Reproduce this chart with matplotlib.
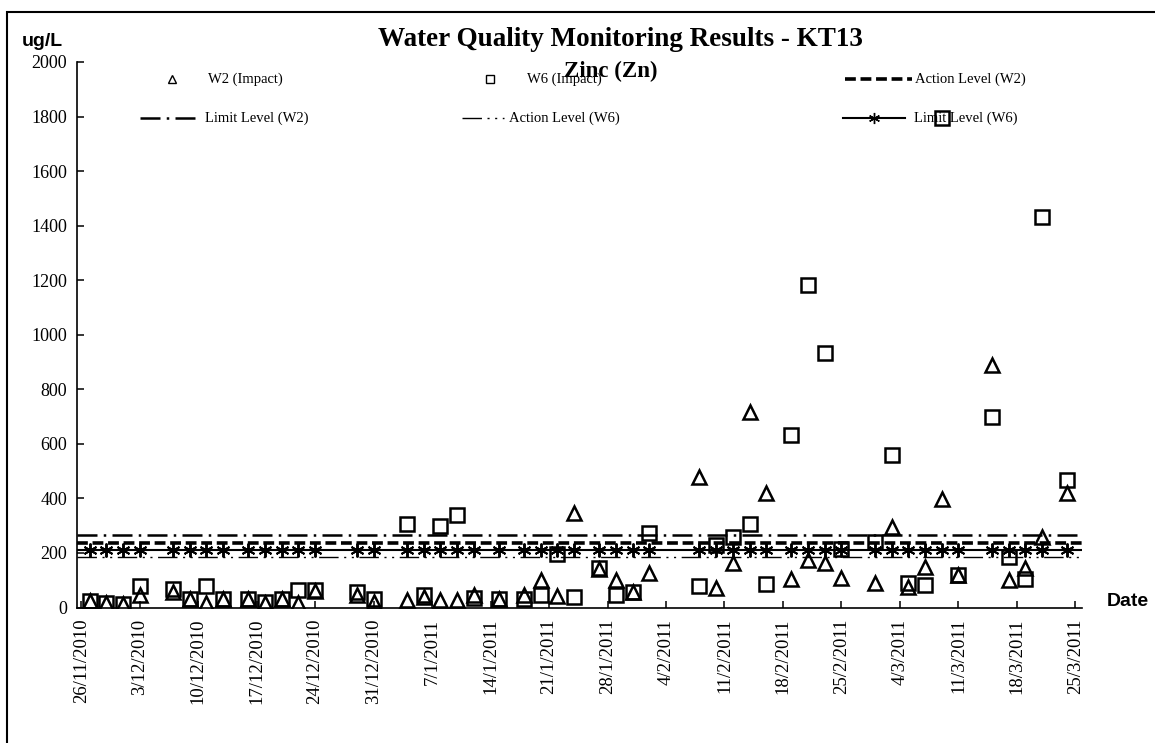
import numpy as np
import pandas as pd
import matplotlib
matplotlib.use('Agg')
import matplotlib.pyplot as plt
from matplotlib.lines import Line2D
from matplotlib.patches import Rectangle

plt.rcParams['font.family'] = ['Liberation Serif', 'DejaVu Serif']

# sampling dates and Zinc results (ug/L)
sample_dates = ['27/11/2010', '29/11/2010', '1/12/2010', '3/12/2010', '7/12/2010',
                '9/12/2010', '11/12/2010', '13/12/2010', '16/12/2010', '18/12/2010',
                '20/12/2010', '22/12/2010', '24/12/2010', '29/12/2010', '31/12/2010',
                '4/1/2011', '6/1/2011', '8/1/2011', '10/1/2011', '12/1/2011',
                '15/1/2011', '18/1/2011', '20/1/2011', '22/1/2011', '24/1/2011',
                '27/1/2011', '29/1/2011', '31/1/2011', '2/2/2011', '8/2/2011',
                '10/2/2011', '12/2/2011', '14/2/2011', '16/2/2011', '19/2/2011',
                '21/2/2011', '23/2/2011', '25/2/2011', '1/3/2011', '3/3/2011',
                '5/3/2011', '7/3/2011', '9/3/2011', '11/3/2011', '15/3/2011',
                '17/3/2011', '19/3/2011', '21/3/2011', '24/3/2011']
w2_impact = [22, 15, 12, 45, 55, 30, 18, 30, 30, 18,
             30, 18, 62, 45, 20, 27, 40, 27, 27, 46,
             30, 46, 101, 42, 345, 140, 101, 55, 125, 477,
             72, 162, 715, 420, 103, 175, 162, 107, 91, 296,
             76, 149, 396, 120, 888, 101, 144, 259, 418]
w6_impact = [22, 17, 12, 80, 68, 30, 78, 30, 32, 20,
             30, 64, 64, 58, 30, 305, 46, 300, 340, 35,
             30, 30, 46, 195, 37, 145, 46, 55, 272, 79,
             230, 260, 306, 85, 634, 1181, 933, 215, 241, 559,
             88, 82, 1795, 120, 699, 186, 103, 1432, 469]

action_w2 = 237
limit_w2 = 265
action_w6 = 185
limit_w6 = 210

tick_labels = ['26/11/2010', '3/12/2010', '10/12/2010', '17/12/2010', '24/12/2010',
               '31/12/2010', '7/1/2011', '14/1/2011', '21/1/2011', '28/1/2011',
               '4/2/2011', '11/2/2011', '18/2/2011', '25/2/2011', '4/3/2011',
               '11/3/2011', '18/3/2011', '25/3/2011']

W, H = 1155, 743
fig = plt.figure(figsize=(W / 100, H / 100), dpi=100)
ax = fig.add_axes([77 / W, 1 - 607.5 / H, (1082 - 77) / W, (607.5 - 62) / H])

dates = pd.to_datetime(sample_dates, format='%d/%m/%Y')
ticks = pd.to_datetime(tick_labels, format='%d/%m/%Y')

styles = {
    'limit_w2': dict(color='black', lw=1.8, ls=(0, (8, 2.5, 1, 2.5))),
    'action_w2': dict(color='black', lw=2.6, ls=(0, (3, 1.3))),
    'action_w6': dict(color='black', lw=1.0, ls=(0, (14, 4, 1.5, 4, 1.5, 4))),
    'limit_w6': dict(color='black', lw=1.5, ls='-'),
}
ax.axhline(limit_w2, zorder=2, **styles['limit_w2'])
ax.axhline(action_w2, zorder=2, **styles['action_w2'])
ax.axhline(action_w6, zorder=2, **styles['action_w6'])
ax.axhline(limit_w6, zorder=2, **styles['limit_w6'])
asterisk = (6, 2, 0)
ax.plot(dates, [limit_w6] * len(dates), ls='none', marker=asterisk, ms=10,
        mec='black', mew=1.4, zorder=3)

mk = dict(ls='none', mfc='none', mec='black', mew=1.8, zorder=4)
ax.plot(dates, w2_impact, marker='^', ms=10, **mk)
ax.plot(dates, w6_impact, marker='s', ms=9.5, **mk)

ax.set_ylim(0, 2000)
ax.set_yticks(np.arange(0, 2001, 200))
ax.set_xlim(ticks[0] - pd.Timedelta(hours=12), ticks[-1] + pd.Timedelta(hours=19))
ax.set_xticks(ticks)
ax.set_xticklabels(tick_labels, rotation=90, fontsize=13.5)
for lab in ax.get_yticklabels():
    lab.set_fontsize(13)
ax.tick_params(axis='both', direction='in', length=5, width=1.1, color='black')
ax.tick_params(axis='x', pad=8)
ax.tick_params(axis='y', pad=7)
for side in ['top', 'right']:
    ax.spines[side].set_visible(False)
for side in ['left', 'bottom']:
    ax.spines[side].set_linewidth(1.2)

# titles and axis captions
fig.text(620 / W, 1 - 40 / H, 'Water Quality Monitoring Results - KT13', ha='center',
         va='center', fontsize=19.5, fontweight='bold')
fig.text(611 / W, 1 - 71 / H, 'Zinc (Zn)', ha='center', va='center',
         fontsize=16.5, fontweight='bold')
fig.text(42 / W, 1 - 42 / H, 'ug/L', ha='center', va='center', fontsize=14,
         fontfamily='Liberation Sans', fontweight='bold')
fig.text(1128 / W, 1 - 601 / H, 'Date', ha='center', va='center', fontsize=14,
         fontfamily='Liberation Sans', fontweight='bold')


# legend, laid out like the spreadsheet one
def entry(x0, x1, y, tx, label, marker=None, line=None, ms=7):
    yf = 1 - y / H
    if line is not None:
        fig.add_artist(Line2D([x0 / W, x1 / W], [yf, yf], transform=fig.transFigure, **line))
    if marker is not None:
        xm = (x0 + x1) / 2
        fig.add_artist(Line2D([xm / W], [yf], transform=fig.transFigure, ls='none',
                              marker=marker, ms=ms, mfc='none', mec='black', mew=1.0))
    fig.text(tx / W, yf, label, ha='left', va='center', fontsize=10.5)


entry(172, 172, 79, 208, 'W2 (Impact)', marker='^', ms=6)
entry(490, 490, 79, 527, 'W6 (Impact)', marker='s', ms=6)
entry(845, 912, 79, 915, 'Action Level (W2)', line=styles['action_w2'])
entry(140, 195, 118, 205, 'Limit Level (W2)', line=styles['limit_w2'])
entry(462, 504, 118, 509, 'Action Level (W6)', line=styles['action_w6'])
entry(843, 905, 118, 914, 'Limit Level (W6)', line=styles['limit_w6'], marker=asterisk, ms=8)

# outer chart frame (only top and left edges fall inside the picture)
fig.add_artist(Rectangle((7 / W, -0.05), 1.2, 1 - 12 / H + 0.05, transform=fig.transFigure,
                         fill=False, lw=1.5, ec='black'))

fig.savefig('out.png', dpi=100)
